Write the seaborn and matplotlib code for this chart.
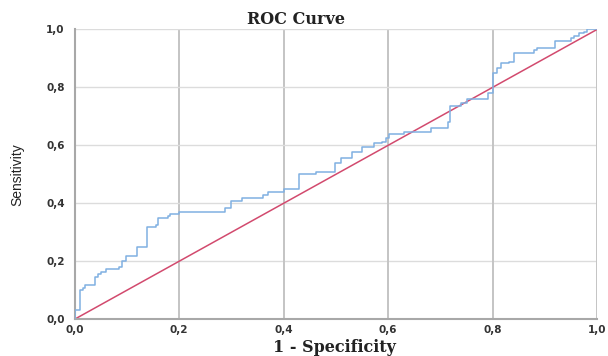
#! /usr/bin/env python
'''
ROC curve (SPSS style) redrawn with seaborn
'''
import matplotlib
matplotlib.use('Agg')
import matplotlib.pyplot as plt
from matplotlib.ticker import FuncFormatter
import pandas as pd
import seaborn as sns

sns.set_style("white")

# ROC points (corners of the staircase)
fpr = [0.000, 0.000, 0.011, 0.016, 0.020, 0.040, 0.045, 0.050, 0.061, 0.086,
       0.090, 0.099, 0.119, 0.139, 0.156, 0.160, 0.178, 0.182, 0.200, 0.288,
       0.300, 0.320, 0.360, 0.371, 0.400, 0.429, 0.461, 0.499, 0.510, 0.531,
       0.550, 0.572, 0.588, 0.595, 0.601, 0.630, 0.681, 0.714, 0.719, 0.739,
       0.751, 0.791, 0.800, 0.809, 0.815, 0.831, 0.841, 0.879, 0.885, 0.920,
       0.949, 0.956, 0.965, 0.974, 0.981, 1.000]
tpr = [0.000, 0.032, 0.100, 0.107, 0.118, 0.147, 0.155, 0.164, 0.172, 0.180,
       0.200, 0.218, 0.248, 0.317, 0.325, 0.348, 0.356, 0.363, 0.371, 0.383,
       0.408, 0.417, 0.429, 0.438, 0.448, 0.501, 0.509, 0.538, 0.557, 0.578,
       0.595, 0.607, 0.612, 0.624, 0.639, 0.647, 0.659, 0.681, 0.735, 0.745,
       0.760, 0.781, 0.850, 0.866, 0.883, 0.888, 0.919, 0.929, 0.937, 0.960,
       0.969, 0.977, 0.986, 0.992, 1.000, 1.000]

# reference line (chance)
ref_x = [0.0, 1.0]
ref_y = [0.0, 1.0]

ticks = [0.0, 0.2, 0.4, 0.6, 0.8, 1.0]

roc = pd.DataFrame({'fpr': fpr, 'tpr': tpr})
ref = pd.DataFrame({'x': ref_x, 'y': ref_y})

fig = plt.figure(figsize=(6.08, 3.56), dpi=100)
ax = fig.add_axes([74.5/608, 1-319.3/356, (597.3-74.5)/608, (319.3-29.3)/356])

# grid
for t in ticks[1:]:
    ax.axvline(t, color='#c4c4c4', lw=1.4, zorder=0)
    ax.axhline(t, color='#dcdcdc', lw=1.0, zorder=0)

sns.lineplot(x='fpr', y='tpr', data=roc, ax=ax, estimator=None, sort=False,
             drawstyle='steps-post', color='#80b0e2', lw=1.1, zorder=3)
sns.lineplot(x='x', y='y', data=ref, ax=ax, color='#d24a6e', lw=1.1, zorder=2)

ax.set_xlim(0, 1)
ax.set_ylim(0, 1)
ax.set_xticks(ticks)
ax.set_yticks(ticks)
fmt = FuncFormatter(lambda v, p: ('%.1f' % v).replace('.', ','))
ax.xaxis.set_major_formatter(fmt)
ax.yaxis.set_major_formatter(fmt)
ax.tick_params(axis='both', length=0, labelsize=7.5, labelcolor='#333333')
ax.tick_params(axis='x', pad=4)
ax.tick_params(axis='y', pad=7)
for lab in ax.get_xticklabels() + ax.get_yticklabels():
    lab.set_fontweight('bold')

for s in ['top', 'right']:
    ax.spines[s].set_visible(False)
for s in ['left', 'bottom']:
    ax.spines[s].set_color('#a8a8a8')
    ax.spines[s].set_linewidth(1.5)

ax.set_xlabel('')
ax.set_ylabel('')
fig.text(296/608, 1-19/356, 'ROC Curve', ha='center', va='center',
         family='DejaVu Serif', fontweight='bold', fontsize=11.5, color='#222222')
fig.text(334/608, 1-347/356, '1 - Specificity', ha='center', va='center',
         family='DejaVu Serif', fontweight='bold', fontsize=11.5, color='#222222')
fig.text(17/608, 1-175/356, 'Sensitivity', ha='center', va='center', rotation=90,
         family='Liberation Sans', fontsize=10, color='#222222')

fig.savefig('out.png', dpi=100)
plt.close()
